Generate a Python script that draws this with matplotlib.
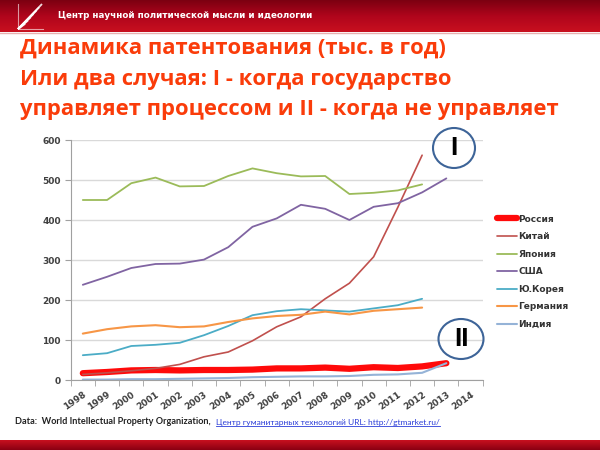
import numpy as np
import matplotlib
matplotlib.use("Agg")
import matplotlib.pyplot as plt
from matplotlib.patches import Ellipse

# years on the category axis
years = [str(y) for y in range(1998, 2015)]

# patents, thousands per year
russia = [17, 20, 24, 25, 24, 25, 25, 26, 29, 29, 31, 28, 32, 30, 34, 42]
china = [14, 18, 23, 29, 39, 58, 70, 98, 133, 158, 203, 242, 308, 432, 562]
japan = [450, 450, 492, 506, 484, 485, 510, 529, 517, 509, 510, 465, 468, 474, 489]
usa = [238, 258, 280, 290, 291, 301, 332, 383, 404, 438, 428, 400, 433, 442, 469, 504]
korea = [62, 67, 85, 88, 93, 112, 135, 162, 172, 177, 174, 171, 179, 187, 203]
germany = [116, 127, 134, 137, 132, 134, 145, 154, 160, 163, 171, 164, 173, 177, 181]
india = [1, 1, 2, 2, 3, 4, 5, 7, 8, 9, 9, 10, 13, 14, 18, 42]

names = ["Россия", "Китай", "Япония", "США", "Ю.Корея", "Германия", "Индия"]
series = [russia, china, japan, usa, korea, germany, india]
colors = ["#ff0a0a", "#c0504d", "#9bbb59", "#8064a2", "#4bacc6", "#f79646", "#95b3d7"]
widths = [4.5, 1.2, 1.3, 1.3, 1.3, 1.5, 1.5]

W, H = 600, 450
fig = plt.figure(figsize=(6, 4.5), dpi=100)


def fx(x):
    return x / W


def fy(y):
    return 1 - y / H


# background bands (header and footer)
bg = fig.add_axes([0, 0, 1, 1], zorder=-5)
bg.set_xlim(0, W)
bg.set_ylim(H, 0)
bg.axis("off")
grad = np.linspace(0, 1, 64).reshape(-1, 1)
hdr = matplotlib.colors.LinearSegmentedColormap.from_list("hdr", ["#7c0011", "#b0051c", "#c8101f"])
bg.imshow(grad, cmap=hdr, extent=[0, W, 32, 0], aspect="auto")
bg.plot([0, W], [32.5, 32.5], color="#e8b0b0", lw=1)
ftr = matplotlib.colors.LinearSegmentedColormap.from_list("ftr", ["#c8101f", "#8a0012"])
bg.imshow(grad, cmap=ftr, extent=[0, W, H, 440], aspect="auto")

# little logo: white rays in a square
for k in range(7):
    t = k / 6
    bg.plot([18, 18 + 24 * (0.3 + 0.7 * t)], [29, 4 + 22 * (1 - t) * 0.9], color="white",
            lw=1.3, alpha=0.85, solid_capstyle="butt")
bg.plot([18, 18, 43], [4, 29, 29], color="white", lw=0.8, alpha=0.6)

fig.text(fx(58), fy(16), "Центр научной политической мысли и идеологии", color="white",
         fontsize=6.3, fontweight="bold", family="DejaVu Sans", va="center")

title = ["Динамика патентования (тыс. в год)",
         "Или два случая: I - когда государство",
         "управляет процессом и II - когда не управляет"]
for i, line in enumerate(title):
    fig.text(fx(20), fy(48 + 31 * i), line, color="#fa3c0a", fontsize=15.8,
             fontweight="bold", family="Open Sans", va="center")

# chart
ax = fig.add_axes([fx(70.7), fy(380), fx(482.7) - fx(70.7), (380 - 140) / H])
x = np.arange(len(years))
for name, vals, c, lw in zip(names, series, colors, widths):
    ax.plot(x[:len(vals)], vals, color=c, lw=lw, label=name, solid_capstyle="round")

ax.set_xlim(-0.5, len(years) - 0.5)
ax.set_ylim(0, 600)
ax.set_yticks(range(0, 601, 100))
ax.set_xticks(x)
ax.set_xticklabels(years, rotation=35, ha="right", rotation_mode="anchor")
ax.set_xticks(np.arange(-0.5, len(years), 1), minor=True)
ax.tick_params(axis="x", which="major", length=0, pad=7, labelsize=6.5)
ax.tick_params(axis="x", which="minor", length=4, color="#a0a0a0")
ax.tick_params(axis="y", length=4, color="#a0a0a0", labelsize=6.5, pad=3)
for lab in ax.get_xticklabels() + ax.get_yticklabels():
    lab.set_fontweight("bold")
    lab.set_color("#404040")
ax.grid(axis="y", color="#d9d9d9", lw=1)
ax.set_axisbelow(True)
for s in ["top", "right"]:
    ax.spines[s].set_visible(False)
ax.spines["left"].set_color("#a0a0a0")
ax.spines["bottom"].set_color("#a0a0a0")
ax.patch.set_alpha(0)

leg = fig.legend(loc="upper left", bbox_to_anchor=(fx(493), fy(211)), frameon=False,
                 fontsize=6.5, handlelength=2.3, handletextpad=0.1, labelspacing=0.95,
                 borderaxespad=0)
for t in leg.get_texts():
    t.set_color("#333333")
    t.set_fontweight("bold")

# circles I and II
for cx, cy, w, h, lab in [(454, 148, 42, 40, "I"), (461, 339, 45, 40, "II")]:
    e = Ellipse((fx(cx), fy(cy)), fx(w), h / H, transform=fig.transFigure, fill=False,
                edgecolor="#3d6498", lw=1.5, zorder=10)
    fig.add_artist(e)
    fig.text(fx(cx), fy(cy), lab, fontsize=19, fontweight="bold", color="black",
             ha="center", va="center", family="Liberation Sans")

# footer
src = fig.text(fx(15), fy(422), "Data:  World Intellectual Property Organization,",
               fontsize=6.6, fontweight="bold", color="#222222", va="center", family="Lato")
link = fig.text(fx(216), fy(422), "Центр гуманитарных технологий URL: http://gtmarket.ru/",
                fontsize=6, color="#2a3cd8", va="center", family="Lato")
fig.canvas.draw()
bb = link.get_window_extent().transformed(fig.transFigure.inverted())
fig.add_artist(plt.Line2D([bb.x0, bb.x1], [bb.y0, bb.y0], color="#2a3cd8", lw=0.6,
                          transform=fig.transFigure))

fig.savefig("out.png", dpi=100)
